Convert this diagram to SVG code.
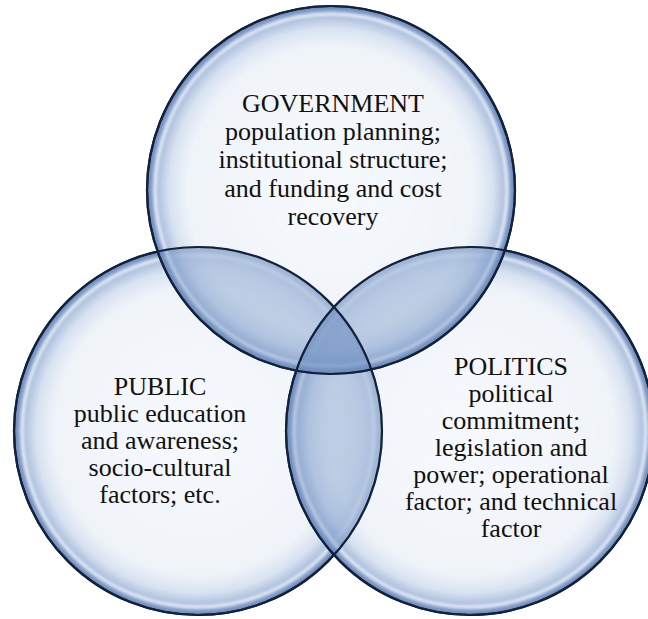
<svg xmlns="http://www.w3.org/2000/svg" width="648" height="619" viewBox="0 0 648 619">
  <defs>
    <style>
      .bubble { fill: url(#bubbleFill); stroke: #13223a; stroke-width: 2.2; }
      .shine { fill: none; stroke: #ffffff; stroke-width: 3; stroke-opacity: 0.8; filter: url(#soft); }
      .lens { fill: #6f8fc2; fill-opacity: 0.36; }
      text { font-family: 'Times New Roman', 'Liberation Serif', Tinos, 'Noto Serif', 'DejaVu Serif', Times, serif; font-size: 26px; fill: #111111; text-anchor: middle; }
    </style>
    <radialGradient id="bubbleFill" cx="50%" cy="50%" r="50%">
      <stop offset="0" stop-color="#f1f5fa" stop-opacity="0.6"/>
      <stop offset="0.78" stop-color="#e6edf6" stop-opacity="0.62"/>
      <stop offset="0.88" stop-color="#c8d6eb" stop-opacity="0.72"/>
      <stop offset="0.955" stop-color="#93acd3" stop-opacity="0.85"/>
      <stop offset="1" stop-color="#5b7db2" stop-opacity="0.95"/>
    </radialGradient>
    <filter id="soft" x="-10%" y="-10%" width="120%" height="120%">
      <feGaussianBlur stdDeviation="1.4"/>
    </filter>
    <clipPath id="clipTop"><circle cx="331" cy="190" r="184"/></clipPath>
    <clipPath id="clipLeft"><circle cx="198" cy="431" r="184"/></clipPath>
  </defs>

  <rect width="648" height="619" fill="#ffffff"/>

  <!-- circles -->
  <g id="node-public">
    <circle class="bubble" cx="198" cy="431" r="184"/>
    <circle class="shine" cx="198" cy="431" r="176"/>
  </g>
  <g id="node-politics">
    <circle class="bubble" cx="470" cy="431" r="184"/>
    <circle class="shine" cx="470" cy="431" r="176"/>
  </g>
  <g id="node-government">
    <circle class="bubble" cx="331" cy="190" r="184"/>
    <circle class="shine" cx="331" cy="190" r="176"/>
  </g>

  <!-- overlap shading -->
  <g id="overlaps">
    <g clip-path="url(#clipTop)"><circle class="lens" cx="198" cy="431" r="184"/></g>
    <g clip-path="url(#clipTop)"><circle class="lens" cx="470" cy="431" r="184"/></g>
    <g clip-path="url(#clipLeft)"><circle class="lens" cx="470" cy="431" r="184"/></g>
  </g>

  <!-- outlines on top -->
  <g id="outlines" fill="none" stroke="#13223a" stroke-width="2.2">
    <circle cx="198" cy="431" r="184"/>
    <circle cx="470" cy="431" r="184"/>
    <circle cx="331" cy="190" r="184"/>
  </g>

  <!-- labels -->
  <g id="labels">
    <g id="label-government">
      <text x="333" y="112">GOVERNMENT</text>
      <text x="333" y="140.2">population planning;</text>
      <text x="333" y="168.4">institutional structure;</text>
      <text x="333" y="196.6">and funding and cost</text>
      <text x="333" y="224.8">recovery</text>
    </g>
    <g id="label-public">
      <text x="160" y="395">PUBLIC</text>
      <text x="160" y="422">public education</text>
      <text x="160" y="449">and awareness;</text>
      <text x="160" y="476">socio-cultural</text>
      <text x="160" y="503">factors; etc.</text>
    </g>
    <g id="label-politics">
      <text x="511" y="375">POLITICS</text>
      <text x="511" y="402">political</text>
      <text x="511" y="429">commitment;</text>
      <text x="511" y="456">legislation and</text>
      <text x="511" y="483">power; operational</text>
      <text x="511" y="510">factor; and technical</text>
      <text x="511" y="537">factor</text>
    </g>
  </g>
</svg>
